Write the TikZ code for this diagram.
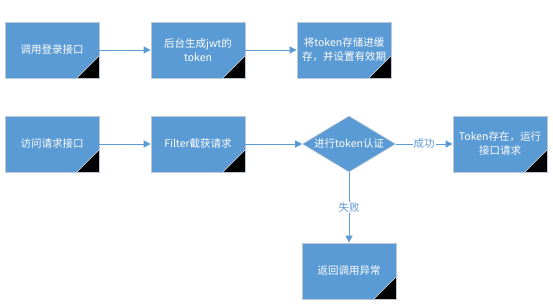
\documentclass[tikz,border=0pt]{standalone}
\usepackage{fontspec}
\setmainfont{Noto Sans CJK SC}
\usetikzlibrary{shapes.geometric,arrows.meta,shadows}

\definecolor{boxblue}{HTML}{5B9BD5}
\definecolor{boxline}{HTML}{BCC8D6}
\definecolor{lineblue}{HTML}{5B9BD5}
\tikzstyle{proc} = [rectangle, draw=boxline, line width=0.8pt, fill=boxblue,
	minimum width=94pt, minimum height=56pt, inner sep=2pt, align=center,
	text=white, font=\fontsize{10.5}{14}\selectfont,
	drop shadow={shadow xshift=0.8pt, shadow yshift=-1.2pt, fill=boxblue!25, opacity=0.6},
	path picture={\fill[black] (path picture bounding box.south east) -- ++(-22pt,0pt) -- ++(22pt,22pt) -- cycle;
		\draw[white!70!gray, line width=0.6pt] (path picture bounding box.south east) ++(-22pt,0pt) -- ++(22pt,22pt);}]
\tikzstyle{check} = [diamond, aspect=1.66, draw=boxline, line width=0.6pt, fill=boxblue,
	minimum width=93pt, minimum height=56pt, inner sep=0pt, align=center,
	text=white, font=\fontsize{10.5}{14}\selectfont]
\tikzstyle{flow} = [draw=lineblue, line width=0.9pt, -{Triangle[length=7pt,width=7pt]}]
\tikzstyle{cond} = [fill=white, text=lineblue, inner sep=1pt, font=\fontsize{10.5}{14}\selectfont]

\begin{document}
\begin{tikzpicture}[x=1pt, y=-1pt]
	\useasboundingbox (0,0) rectangle (553,307);
	% first row
	\node[proc] (login) at (52,50) {调用登录接口};
	\node[proc] (jwt) at (198,50) {后台生成jwt的\\token};
	\node[proc] (cache) at (344,50) {将token存储进缓\\存，并设置有效期};
	% second row
	\node[proc] (access) at (52,144) {访问请求接口};
	\node[proc] (filter) at (198,144) {Filter截获请求};
	\node[check] (verify) at (349,144) {进行token认证};
	\node[proc] (run) at (500,144) {Token存在，运行\\接口请求};
	\node[proc] (error) at (349,271) {返回调用异常};

	\draw[flow] (login) -- (jwt);
	\draw[flow] (jwt) -- (cache);
	\draw[flow] (access) -- (filter);
	\draw[flow] (filter) -- (verify);
	\draw[flow] (verify) -- node[cond] {成功} (run);
	\draw[flow] (verify) -- node[cond] {失败} (error);
\end{tikzpicture}
\end{document}
